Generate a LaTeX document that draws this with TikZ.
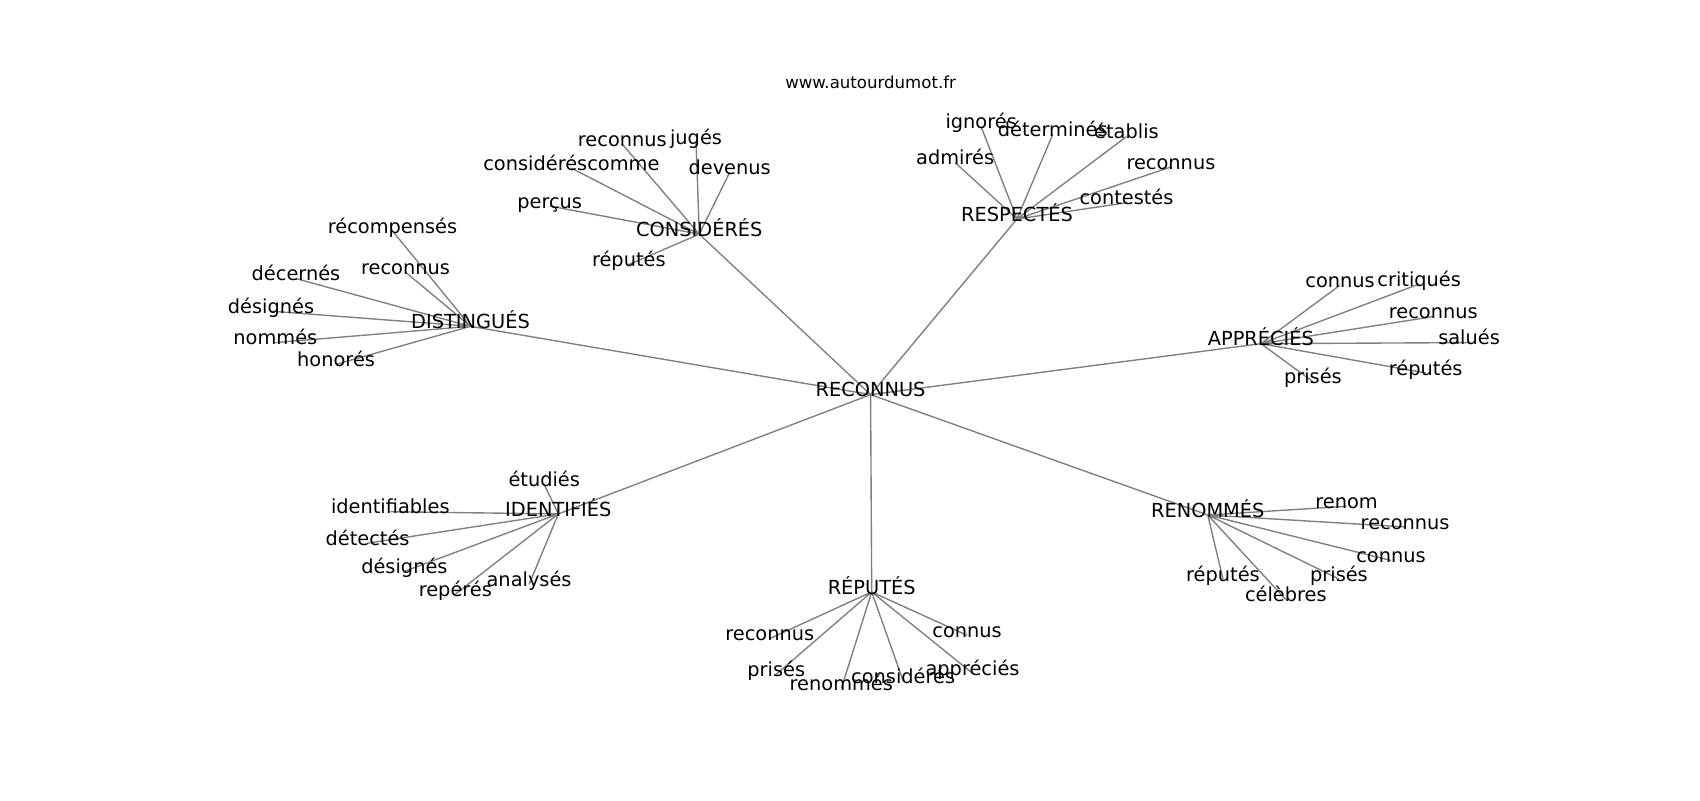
\documentclass[tikz,border=0pt]{standalone}
\usepackage{fontspec}
\setmainfont{DejaVu Sans}
\usetikzlibrary{backgrounds}
\tikzset{
  word/.style={inner sep=0pt, text height=0.76em, text depth=0.45em, font=\fontsize{14pt}{14pt}\selectfont},
  edge/.style={draw=black!50, line width=1pt},
}
\begin{document}
\begin{tikzpicture}[x=0.010842in, y=-0.010842in]
	\useasboundingbox (0,0) rectangle (1568,738);
	\node[inner sep=0pt, font=\fontsize{12pt}{12pt}\selectfont] (title) at (803,76) {www.autourdumot.fr};
	\node[word] (rec) at (803,364) {RECONNUS};
	% considérés
	\node[word] (con)  at (645,216) {CONSIDÉRÉS};
	\node[word] (con1) at (574,133) {reconnus};
	\node[word] (con2) at (642,131) {jugés};
	\node[word] (con3) at (527,155) {considéréscomme};
	\node[word] (con4) at (673,159) {devenus};
	\node[word] (con5) at (507,190) {perçus};
	\node[word] (con6) at (580,244) {réputés};
	% respectés
	\node[word] (res)  at (938,202) {RESPECTÉS};
	\node[word] (res1) at (905,117) {ignorés};
	\node[word] (res2) at (971,124) {déterminés};
	\node[word] (res3) at (1039,126) {établis};
	\node[word] (res4) at (881,150) {admirés};
	\node[word] (res5) at (1080,154) {reconnus};
	\node[word] (res6) at (1039,187) {contestés};
	% distingués
	\node[word] (dis)  at (434,301) {DISTINGUÉS};
	\node[word] (dis1) at (362,213) {récompensés};
	\node[word] (dis2) at (374,251) {reconnus};
	\node[word] (dis3) at (273,257) {décernés};
	\node[word] (dis4) at (250,287) {désignés};
	\node[word] (dis5) at (254,316) {nommés};
	\node[word] (dis6) at (310,336) {honorés};
	% appréciés
	\node[word] (app)  at (1163,317) {APPRÉCIÉS};
	\node[word] (app1) at (1236,263) {connus};
	\node[word] (app2) at (1309,262) {critiqués};
	\node[word] (app3) at (1322,292) {reconnus};
	\node[word] (app4) at (1355,316) {salués};
	\node[word] (app5) at (1315,344) {réputés};
	\node[word] (app6) at (1211,352) {prisés};
	% identifiés
	\node[word] (ide)  at (515,474) {IDENTIFIÉS};
	\node[word] (ide1) at (502,447) {étudiés};
	\node[word] (ide2) at (360,472) {identifiables};
	\node[word] (ide3) at (339,501) {détectés};
	\node[word] (ide4) at (373,527) {désignés};
	\node[word] (ide5) at (420,548) {repérés};
	\node[word] (ide6) at (488,539) {analysés};
	% réputés
	\node[word] (rep)  at (804,546) {RÉPUTÉS};
	\node[word] (rep1) at (710,589) {reconnus};
	\node[word] (rep2) at (892,586) {connus};
	\node[word] (rep3) at (716,622) {prisés};
	\node[word] (rep4) at (776,635) {renommés};
	\node[word] (rep5) at (833,628) {considérés};
	\node[word] (rep6) at (897,621) {appréciés};
	% renommés
	\node[word] (ren)  at (1114,475) {RENOMMÉS};
	\node[word] (ren1) at (1242,467) {renom};
	\node[word] (ren2) at (1296,486) {reconnus};
	\node[word] (ren3) at (1283,517) {connus};
	\node[word] (ren4) at (1235,534) {prisés};
	\node[word] (ren5) at (1128,534) {réputés};
	\node[word] (ren6) at (1186,553) {célèbres};
	\begin{scope}[on background layer]
		\path[edge] (rec.center) -- (con.center) (rec.center) -- (res.center) (rec.center) -- (dis.center)
			(rec.center) -- (app.center) (rec.center) -- (ide.center) (rec.center) -- (rep.center) (rec.center) -- (ren.center);
		\path[edge] (con.center) -- (con1.center) (con.center) -- (con2.center) (con.center) -- (con3.center)
			(con.center) -- (con4.center) (con.center) -- (con5.center) (con.center) -- (con6.center);
		\path[edge] (res.center) -- (res1.center) (res.center) -- (res2.center) (res.center) -- (res3.center)
			(res.center) -- (res4.center) (res.center) -- (res5.center) (res.center) -- (res6.center);
		\path[edge] (dis.center) -- (dis1.center) (dis.center) -- (dis2.center) (dis.center) -- (dis3.center)
			(dis.center) -- (dis4.center) (dis.center) -- (dis5.center) (dis.center) -- (dis6.center);
		\path[edge] (app.center) -- (app1.center) (app.center) -- (app2.center) (app.center) -- (app3.center)
			(app.center) -- (app4.center) (app.center) -- (app5.center) (app.center) -- (app6.center);
		\path[edge] (ide.center) -- (ide1.center) (ide.center) -- (ide2.center) (ide.center) -- (ide3.center)
			(ide.center) -- (ide4.center) (ide.center) -- (ide5.center) (ide.center) -- (ide6.center);
		\path[edge] (rep.center) -- (rep1.center) (rep.center) -- (rep2.center) (rep.center) -- (rep3.center)
			(rep.center) -- (rep4.center) (rep.center) -- (rep5.center) (rep.center) -- (rep6.center);
		\path[edge] (ren.center) -- (ren1.center) (ren.center) -- (ren2.center) (ren.center) -- (ren3.center)
			(ren.center) -- (ren4.center) (ren.center) -- (ren5.center) (ren.center) -- (ren6.center);
	\end{scope}
\end{tikzpicture}
\end{document}
